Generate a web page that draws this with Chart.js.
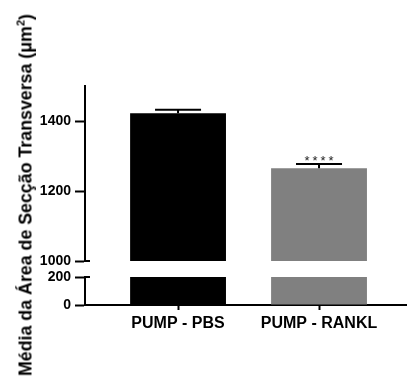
<!DOCTYPE html>
<html>
<head>
<meta charset="utf-8">
<script src="https://cdn.jsdelivr.net/npm/chart.js@4/dist/chart.umd.min.js"></script>
<style>
  body { margin: 0; background: #fff; }
  #wrap { position: relative; width: 408px; height: 383px; }
  #wrap canvas { position: absolute; left: 0; top: 0; }
  #titulo {
    position: absolute;
    width: 383px; height: 20px; line-height: 20px;
    left: -166px; top: 185px;
    transform: rotate(-90deg);
    text-align: center; white-space: nowrap;
    font: bold 17.8px "Liberation Sans", Arial, sans-serif;
    color: #000;
  }
  #titulo sup { font-size: 11px; line-height: 0; vertical-align: 7px; }
</style>
</head>
<body>
<div id="wrap">
  <canvas id="graficoBaixo" width="408" height="383"></canvas>
  <canvas id="graficoCima" width="408" height="383"></canvas>
  <div id="titulo">Média da Área de Secção Transversa (μm<sup>2</sup>)</div>
</div>
<script>
const categorias = ['PUMP - PBS', 'PUMP - RANKL'];
const medias = [1422, 1265];
const erros = [10, 12];
const significancia = ['', '****'];
const ticksCima = [1000, 1200, 1400];
const ticksBaixo = [0, 200];

const corBarras = ['#000000', '#808080'];
const fonteTicks = { family: '"Liberation Sans", Arial, sans-serif', size: 14, weight: 'bold' };

function pontos() {
    return categorias.map((c, i) => ({ x: i + 1, y: medias[i] }));
}

function eixoY(min, max, lista) {
    return {
        min: min,
        max: max,
        afterBuildTicks: (scale) => { scale.ticks = lista.map(v => ({ value: v })); },
        afterFit: (scale) => { scale.width = 85; scale.paddingTop = 0; scale.paddingBottom = 0; },
        ticks: { font: fonteTicks, color: '#000', padding: 4, callback: (v) => String(v) },
        grid: { drawOnChartArea: false, tickLength: 10, tickWidth: 2, color: '#000' },
        border: { width: 2, color: '#000' }
    };
}

function eixoX(mostrar) {
    return {
        type: 'linear',
        min: 0.34,
        max: 2.617,
        offset: false,
        display: mostrar,
        afterBuildTicks: (scale) => { scale.ticks = categorias.map((c, i) => ({ value: i + 1 })); },
        afterFit: (scale) => {
            if (mostrar) scale.height = 40;
            scale.paddingLeft = 0;
            scale.paddingRight = 0;
        },
        ticks: {
            font: { family: '"Liberation Sans", Arial, sans-serif', size: 16, weight: 'bold' },
            color: '#000',
            padding: 4,
            maxRotation: 0,
            autoSkip: false,
            callback: (v) => categorias[v - 1]
        },
        grid: { offset: false, drawOnChartArea: false, tickLength: 5, tickWidth: 2, color: '#000' },
        border: { width: 2, color: '#000' }
    };
}

// pequena marca a direita do eixo nas pontas da quebra
function marcaQuebra(valor) {
    return {
        id: 'quebra',
        afterDraw(chart) {
            const y = chart.scales.y.getPixelForValue(valor);
            const x = chart.chartArea.left;
            const ctx = chart.ctx;
            ctx.save();
            ctx.strokeStyle = '#000';
            ctx.lineWidth = 2;
            ctx.beginPath();
            ctx.moveTo(x - 1, y);
            ctx.lineTo(x + 5, y);
            ctx.stroke();
            ctx.restore();
        }
    };
}

const barrasErro = {
    id: 'barrasErro',
    afterDatasetsDraw(chart) {
        const ctx = chart.ctx;
        const yScale = chart.scales.y;
        const meta = chart.getDatasetMeta(0);
        ctx.save();
        ctx.strokeStyle = '#000';
        ctx.lineWidth = 2;
        meta.data.forEach((barra, i) => {
            const x = barra.x;
            const yTopo = yScale.getPixelForValue(medias[i]);
            const yErro = yScale.getPixelForValue(medias[i] + erros[i]);
            const meia = barra.width * 0.24;
            ctx.beginPath();
            ctx.moveTo(x, yTopo);
            ctx.lineTo(x, yErro);
            ctx.moveTo(x - meia, yErro);
            ctx.lineTo(x + meia, yErro);
            ctx.stroke();
            if (significancia[i]) {
                ctx.fillStyle = '#222';
                ctx.font = '13px "Liberation Sans", Arial, sans-serif';
                ctx.letterSpacing = '3px';
                ctx.textAlign = 'center';
                ctx.textBaseline = 'alphabetic';
                ctx.fillText(significancia[i], x + 1.5, yErro + 1);
            }
        });
        ctx.restore();
    }
};

function conjunto() {
    return {
        data: pontos(),
        backgroundColor: corBarras,
        barPercentage: 0.68,
        categoryPercentage: 1,
        clip: 0
    };
}

new Chart(document.getElementById('graficoCima'), {
    type: 'bar',
    data: { datasets: [conjunto()] },
    options: {
        responsive: false,
        animation: false,
        layout: { padding: { top: 86, bottom: 122, left: 0, right: 2 } },
        plugins: { legend: { display: false }, tooltip: { enabled: false } },
        scales: {
            x: eixoX(false),
            y: eixoY(1000, 1500, ticksCima)
        }
    },
    plugins: [barrasErro, marcaQuebra(1000)]
});

new Chart(document.getElementById('graficoBaixo'), {
    type: 'bar',
    data: { datasets: [conjunto()] },
    options: {
        responsive: false,
        animation: false,
        layout: { padding: { top: 277, bottom: 38, left: 0, right: 2 } },
        plugins: { legend: { display: false }, tooltip: { enabled: false } },
        scales: {
            x: eixoX(true),
            y: eixoY(0, 200, ticksBaixo)
        }
    },
    plugins: [marcaQuebra(200)]
});
</script>
</body>
</html>
